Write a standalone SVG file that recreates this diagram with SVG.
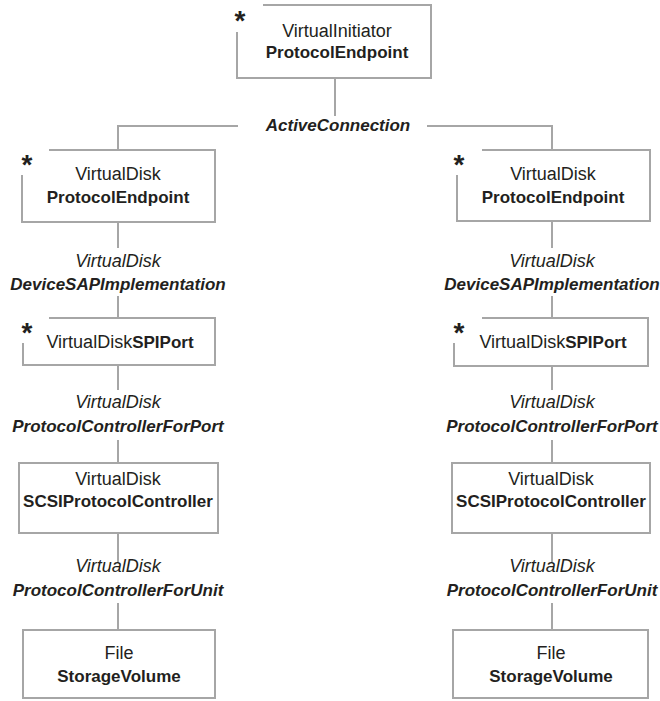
<svg xmlns="http://www.w3.org/2000/svg" width="660" height="701" viewBox="0 0 660 701">
  <style>
    text { font-family: "Liberation Sans", Arial, sans-serif; font-size: 18px; fill: #231f20; text-anchor: middle; }
    .b { font-weight: bold; font-size: 17px; }
    .i { font-style: italic; }
    .bi { font-weight: bold; font-style: italic; font-size: 17px; }
    .star { font-weight: bold; font-size: 28px; }
    .box { fill: #ffffff; stroke: #a6a6a6; stroke-width: 2; }
    .edge { fill: none; stroke: #a6a6a6; stroke-width: 2; }
  </style>
  <rect width="660" height="701" fill="#ffffff"/>

  <!-- connectors -->
  <g id="connectors" class="edge">
    <!-- ActiveConnection: initiator to both disk endpoints -->
    <path d="M335,78 V116"/>
    <path d="M238,126 H118 V150"/>
    <path d="M427,126 H552 V150"/>
    <!-- left column -->
    <path d="M118,222 V248"/>
    <path d="M118,296 V318"/>
    <path d="M118,365 V390"/>
    <path d="M118,440 V463"/>
    <path d="M118,533 V562"/>
    <path d="M118,603 V630"/>
    <!-- right column -->
    <path d="M552,221 V248"/>
    <path d="M552,296 V318"/>
    <path d="M552,366 V390"/>
    <path d="M552,440 V463"/>
    <path d="M552,533 V562"/>
    <path d="M552,603 V630"/>
  </g>

  <!-- association labels -->
  <g id="labels">
    <text class="bi" x="338" y="131">ActiveConnection</text>
    <text class="i" x="118" y="267">VirtualDisk</text>
    <text class="bi" x="118" y="290">DeviceSAPImplementation</text>
    <text class="i" x="118" y="408">VirtualDisk</text>
    <text class="bi" x="118" y="432">ProtocolControllerForPort</text>
    <text class="i" x="118" y="572">VirtualDisk</text>
    <text class="bi" x="118" y="596">ProtocolControllerForUnit</text>
    <text class="i" x="552" y="267">VirtualDisk</text>
    <text class="bi" x="552" y="290">DeviceSAPImplementation</text>
    <text class="i" x="552" y="408">VirtualDisk</text>
    <text class="bi" x="552" y="432">ProtocolControllerForPort</text>
    <text class="i" x="552" y="572">VirtualDisk</text>
    <text class="bi" x="552" y="596">ProtocolControllerForUnit</text>
  </g>

  <!-- top: initiator endpoint -->
  <g id="initiator-endpoint">
    <path class="box" d="M263,5 H431 V78 H237 V32"/>
    <text class="star" x="240" y="30">*</text>
    <text x="337" y="37">VirtualInitiator</text>
    <text class="b" x="337" y="58">ProtocolEndpoint</text>
  </g>

  <!-- left column -->
  <g id="left-disk-endpoint">
    <path class="box" d="M49,150 H215 V222 H22 V175"/>
    <text class="star" x="27" y="174">*</text>
    <text x="118" y="180">VirtualDisk</text>
    <text class="b" x="118" y="203">ProtocolEndpoint</text>
  </g>
  <g id="left-spi-port">
    <path class="box" d="M49,318 H215 V365 H23 V343"/>
    <text class="star" x="27" y="342">*</text>
    <text x="120" y="348">VirtualDisk<tspan class="b">SPIPort</tspan></text>
  </g>
  <g id="left-controller">
    <rect class="box" x="19" y="463" width="199" height="70"/>
    <text x="118" y="485">VirtualDisk</text>
    <text class="b" x="118" y="507">SCSIProtocolController</text>
  </g>
  <g id="left-volume">
    <rect class="box" x="23" y="630" width="192" height="68"/>
    <text x="119" y="659">File</text>
    <text class="b" x="119" y="682">StorageVolume</text>
  </g>

  <!-- right column -->
  <g id="right-disk-endpoint">
    <path class="box" d="M482,150 H650 V221 H457 V175"/>
    <text class="star" x="459" y="174">*</text>
    <text x="553" y="180">VirtualDisk</text>
    <text class="b" x="553" y="203">ProtocolEndpoint</text>
  </g>
  <g id="right-spi-port">
    <path class="box" d="M482,318 H648 V366 H454 V343"/>
    <text class="star" x="459" y="342">*</text>
    <text x="553" y="348">VirtualDisk<tspan class="b">SPIPort</tspan></text>
  </g>
  <g id="right-controller">
    <rect class="box" x="452" y="463" width="198" height="70"/>
    <text x="551" y="485">VirtualDisk</text>
    <text class="b" x="551" y="507">SCSIProtocolController</text>
  </g>
  <g id="right-volume">
    <rect class="box" x="453" y="630" width="195" height="68"/>
    <text x="551" y="659">File</text>
    <text class="b" x="551" y="682">StorageVolume</text>
  </g>
</svg>
